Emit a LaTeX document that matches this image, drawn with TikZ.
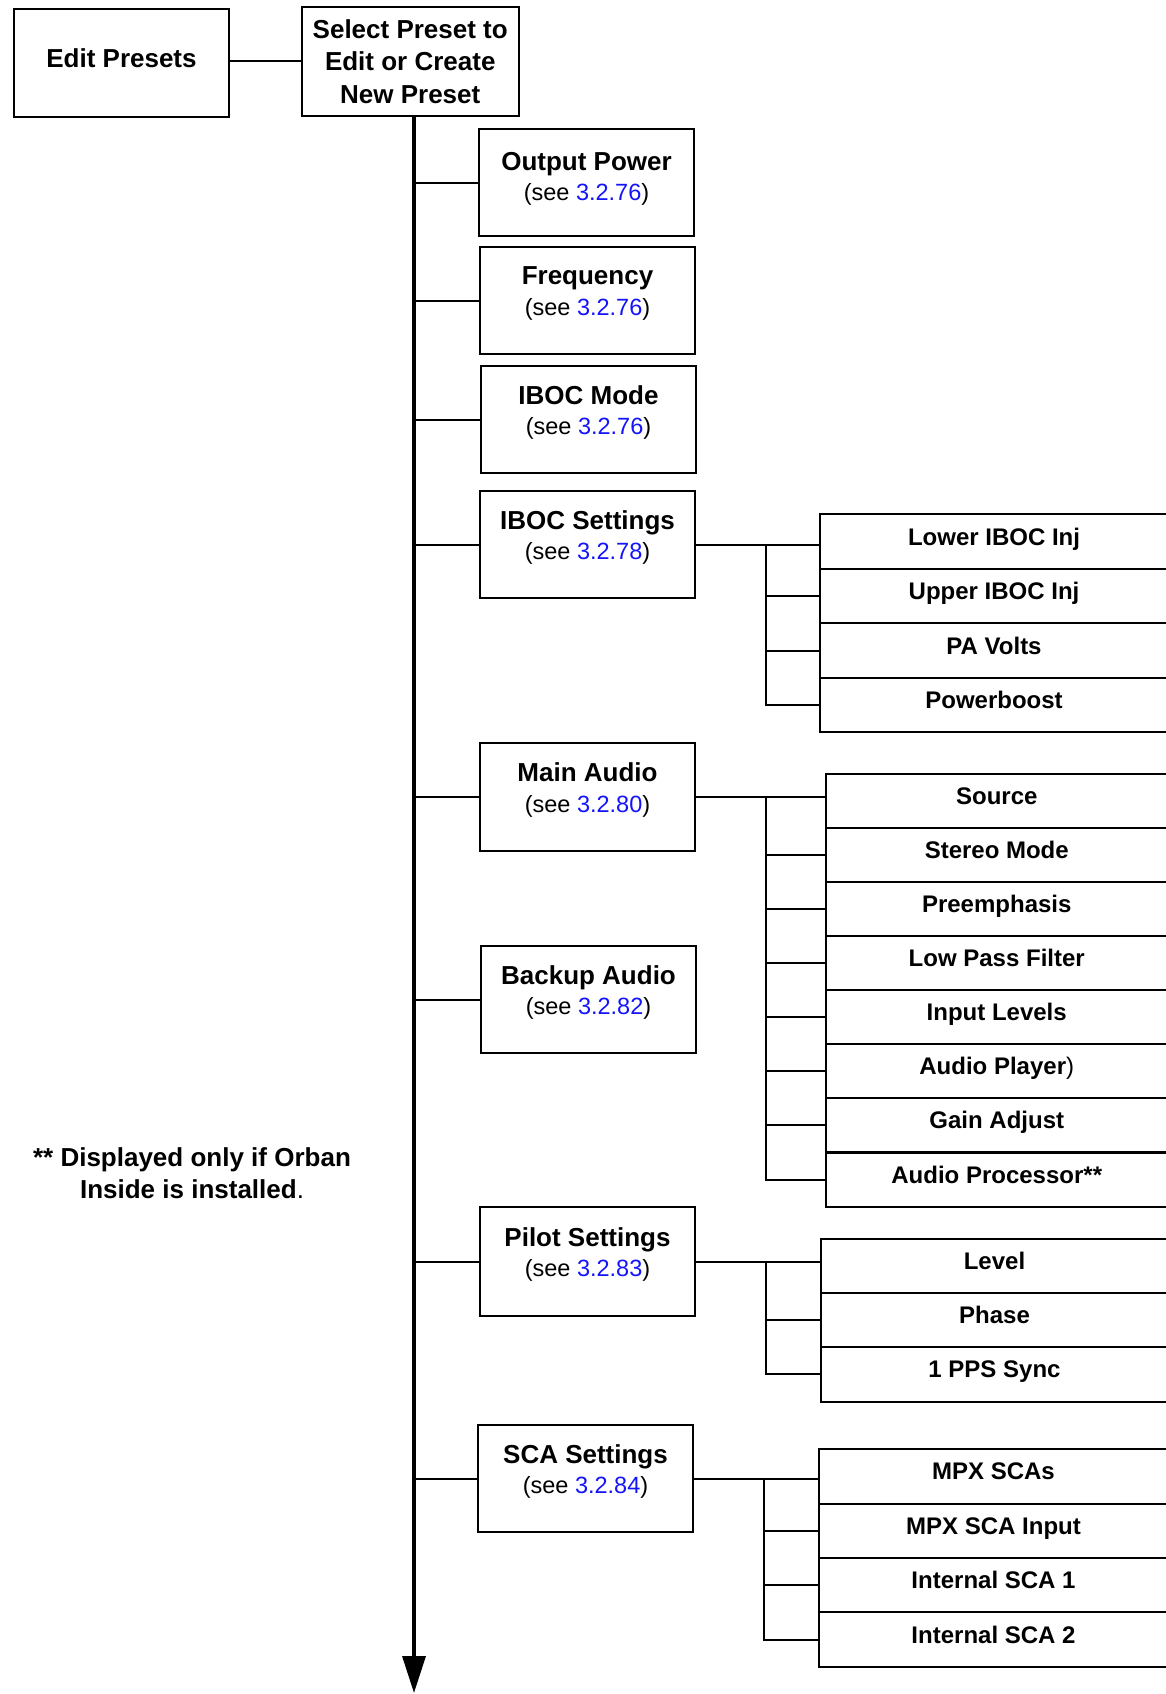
\documentclass[tikz,border=0pt]{standalone}
\usepackage{fontspec}
\setmainfont{Liberation Sans}
\usetikzlibrary{arrows.meta}
\definecolor{linkblue}{RGB}{20,20,250}
\newcommand{\mbt}[2]{{\bfseries\fontsize{26}{30.5}\selectfont #1}\\(see \textcolor{linkblue}{#2})}
\begin{document}
\begin{tikzpicture}[x=1pt,y=-1pt,line width=2pt,
  box/.style={draw,line width=2pt,anchor=north west,inner sep=0pt,outer sep=0pt},
  mainbox/.style={box,minimum width=215pt,minimum height=107pt},
  boxtext/.style={align=center,yshift=7pt,inner sep=0pt,font=\fontsize{23.5}{30.5}\selectfont},
  subbox/.style={box,minimum height=54.2pt,font=\bfseries\fontsize{24}{28}\selectfont,text height=17pt,text depth=10pt},
  mabox/.style={subbox,minimum width=342.5pt},
  conn/.style={line width=2pt},
  mainline/.style={line width=3.4pt,-{Triangle[width=23pt,length=37pt]}}]
\useasboundingbox (0,0) rectangle (1166,1694);

% top boxes
\node[box,minimum width=215pt,minimum height=108pt,font=\bfseries\fontsize{26}{30}\selectfont,text height=19pt,text depth=10pt] (ep) at (14,9) {Edit Presets};
\node[box,minimum width=216.5pt,minimum height=109pt,align=center,font=\bfseries\fontsize{26}{32.5}\selectfont] (sel) at (302,7) {Select Preset to\\Edit or Create\\New Preset};
\draw[conn] (ep.east |- sel.west) -- (sel.west);

% main line
\coordinate (mainend) at (414,1693);
\draw[mainline] (sel.south -| mainend) -- (mainend);

% main column boxes
\node[mainbox] (op) at (479,129) {};
\node[boxtext,yshift=-3.5pt] (opt) at (op.center) {\mbt{Output Power}{3.2.76}};
\node[mainbox] (fr) at (480,247) {};
\node[boxtext] (frt) at (fr.center) {\mbt{Frequency}{3.2.76}};
\node[mainbox] (im) at (481,366) {};
\node[boxtext] (imt) at (im.center) {\mbt{IBOC Mode}{3.2.76}};
\node[mainbox] (is) at (480,491) {};
\node[boxtext] (ist) at (is.center) {\mbt{IBOC Settings}{3.2.78}};
\node[mainbox,minimum height=108pt] (ma) at (480,743) {};
\node[boxtext] (mat) at (ma.center) {\mbt{Main Audio}{3.2.80}};
\node[mainbox] (ba) at (481,946) {};
\node[boxtext] (bat) at (ba.center) {\mbt{Backup Audio}{3.2.82}};
\node[mainbox,minimum height=109pt] (ps) at (480,1207) {};
\node[boxtext] (pst) at (ps.center) {\mbt{Pilot Settings}{3.2.83}};
\node[mainbox] (sca) at (478,1425) {};
\node[boxtext] (scat) at (sca.center) {\mbt{SCA Settings}{3.2.84}};

\foreach \b in {op,fr,im,is,ma,ba,ps,sca}
  \draw[conn] (\b.west -| mainend) -- (\b.west);

% IBOC settings sub-boxes
\node[subbox,minimum width=348pt,minimum height=55pt] (li) at (820,514.3) {Lower IBOC Inj};
\node[subbox,minimum width=348pt,minimum height=54pt] (ui) at (820,569.3) {Upper IBOC Inj};
\node[subbox,minimum width=348pt,minimum height=54.4pt] (pa) at (820,623.3) {PA Volts};
\node[subbox,minimum width=348pt,minimum height=54.6pt] (pb) at (820,677.7) {Powerboost};
\coordinate (isbus) at (766,0);
\draw[conn] (is.east) -- (is.east -| li.west);
\foreach \s in {ui,pa,pb}
  \draw[conn] (is.east -| isbus) |- (\s.west);

% Main audio sub-boxes
\node[mabox] (src) at (825.5,773.7) {Source};
\node[mabox] (smd) at (825.5,827.8) {Stereo Mode};
\node[mabox] (pre) at (825.5,881.9) {Preemphasis};
\node[mabox] (lpf) at (825.5,936.0) {Low Pass Filter};
\node[mabox] (inl) at (825.5,990.1) {Input Levels};
\node[mabox] (apl) at (825.5,1044.2) {Audio Player{\mdseries )}};
\node[mabox] (gad) at (825.5,1098.3) {Gain Adjust};
\node[mabox] (apr) at (825.5,1152.4) {Audio Processor**};
\coordinate (mabus) at (765.5,0);
\draw[conn] (ma.east) -- (ma.east -| src.west);
\foreach \s in {smd,pre,lpf,inl,apl,gad,apr}
  \draw[conn] (ma.east -| mabus) |- (\s.west);

% Pilot sub-boxes
\node[subbox,minimum width=347pt,minimum height=54.3pt] (lvl) at (821,1238.7) {Level};
\node[subbox,minimum width=347pt,minimum height=54.3pt] (phs) at (821,1293.0) {Phase};
\node[subbox,minimum width=347pt,minimum height=54.3pt] (pps) at (821,1347.3) {1 PPS Sync};
\coordinate (psbus) at (765.5,0);
\draw[conn] (ps.east) -- (ps.east -| lvl.west);
\foreach \s in {phs,pps}
  \draw[conn] (ps.east -| psbus) |- (\s.west);

% SCA sub-boxes
\node[subbox,minimum width=349pt,minimum height=54.35pt] (msc) at (819,1449.3) {MPX SCAs};
\node[subbox,minimum width=349pt,minimum height=54.35pt] (msi) at (819,1503.65) {MPX SCA Input};
\node[subbox,minimum width=349pt,minimum height=54.35pt] (is1) at (819,1558.0) {Internal SCA 1};
\node[subbox,minimum width=349pt,minimum height=54.35pt] (is2) at (819,1612.35) {Internal SCA 2};
\coordinate (scabus) at (764,0);
\draw[conn] (sca.east) -- (sca.east -| msc.west);
\foreach \s in {msi,is1,is2}
  \draw[conn] (sca.east -| scabus) |- (\s.west);

% footnote
\node[align=center,font=\bfseries\fontsize{26}{32}\selectfont] (note) at (192,1173) {** Displayed only if Orban\\Inside is installed{\mdseries .}};
\end{tikzpicture}
\end{document}
